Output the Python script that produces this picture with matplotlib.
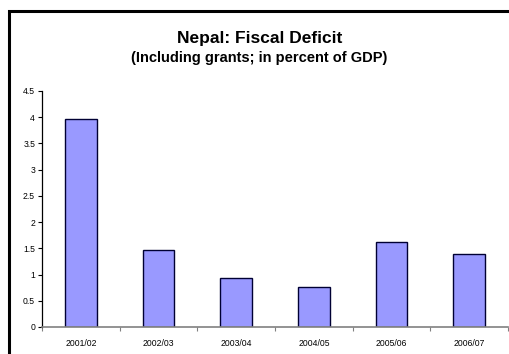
import numpy as np
import matplotlib.pyplot as plt
from matplotlib.patches import Rectangle
from matplotlib.ticker import MultipleLocator, FuncFormatter, FixedLocator

plt.rcParams["font.family"] = ["Liberation Sans", "DejaVu Sans"]

# Fiscal deficit, including grants (percent of GDP)
anos = ["2001/02", "2002/03", "2003/04", "2004/05", "2005/06", "2006/07"]
deficit = [3.97, 1.47, 0.94, 0.77, 1.63, 1.39]

COR_BARRA = "#9999ff"
COR_BORDA = "#000033"

fig = plt.figure(figsize=(5.09, 3.54), dpi=100)
ax = fig.add_axes([0.0825, 0.0763, 0.9155, 0.6667])

x = np.arange(len(anos))
ax.bar(x, deficit, width=0.41, color=COR_BARRA, edgecolor=COR_BORDA,
       linewidth=1.0, zorder=2)

ax.set_xlim(-0.5, len(anos) - 0.5)
ax.set_ylim(0, 4.5)

# eixo y
ax.yaxis.set_major_locator(MultipleLocator(0.5))
ax.yaxis.set_major_formatter(FuncFormatter(lambda v, p: f"{v:g}"))
ax.tick_params(axis="y", direction="out", length=3, width=0.8,
               labelsize=6.2, pad=2)

# eixo x: rótulos no centro, marcas entre categorias
ax.set_xticks(x)
ax.set_xticklabels(anos)
ax.xaxis.set_minor_locator(FixedLocator(np.arange(-0.5, len(anos), 1.0)))
ax.tick_params(axis="x", which="major", length=0, labelsize=6.2, pad=9)
ax.tick_params(axis="x", which="minor", direction="out", length=3,
               width=0.8, color="#808080")

for lado in ["top", "right"]:
    ax.spines[lado].set_visible(False)
ax.spines["left"].set_linewidth(0.9)
ax.spines["bottom"].set_color("#808080")
ax.spines["bottom"].set_linewidth(1.2)

fig.text(0.51, 0.891, "Nepal: Fiscal Deficit", ha="center", va="center",
         fontsize=12.5, fontweight="bold")
fig.text(0.51, 0.837, "(Including grants; in percent of GDP)",
         ha="center", va="center", fontsize=10.5, fontweight="bold")

# moldura externa
fig.patches.append(Rectangle((0.0177, -0.05), 1.1, 1.019,
                             transform=fig.transFigure, fill=False,
                             edgecolor="black", linewidth=2.2,
                             clip_on=False))

fig.savefig("out.png", dpi=100)
